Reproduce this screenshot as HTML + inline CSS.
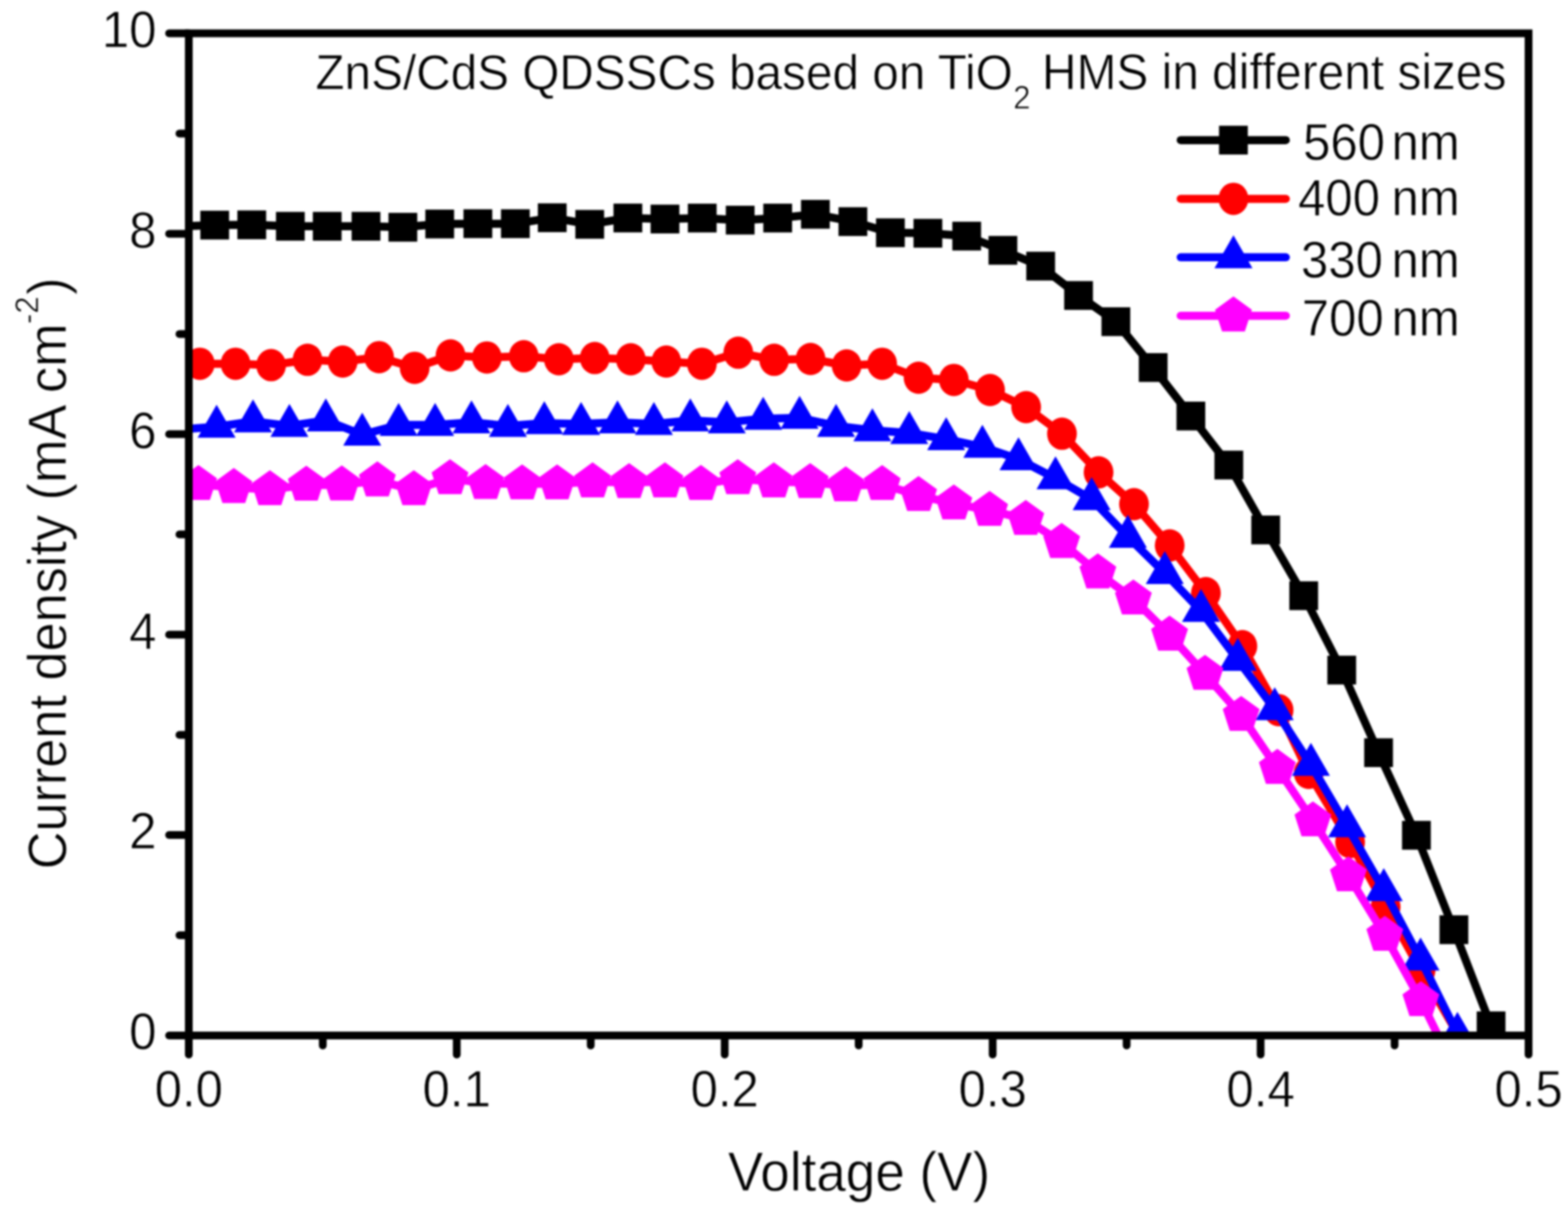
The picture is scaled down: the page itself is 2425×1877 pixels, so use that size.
<!DOCTYPE html>
<html><head><meta charset="utf-8"><title>J-V curves</title>
<style>html,body{margin:0;padding:0;background:#fff;overflow:hidden}svg{display:block;filter:blur(1.5px)}text{stroke:#fff;stroke-width:0.8px}</style>
</head><body>
<svg width="2425" height="1877" viewBox="0 0 2425 1877">
<rect width="2425" height="1877" fill="#fff"/>
<defs><clipPath id="pa"><rect x="292" y="51.5" width="2072" height="1549.5"/></clipPath></defs>
<g clip-path="url(#pa)">
<polyline points="274,350 332,348 389.4,347.6 449,349.8 506,349.8 566,349.8 623,351.3 680,346.3 739,345.9 797,345.9 854,336.7 912,346.8 971,337 1028.4,338.6 1086,337.2 1144.7,340.4 1202.7,337.2 1261,331.3 1319,342.6 1377,359.8 1435,360.6 1495,365 1551,387 1609.5,411.5 1668,456.8 1725.7,497.4 1783.4,568.3 1841.7,643.2 1900.5,719 1957.5,819.4 2016.3,921 2075,1036 2132,1163.7 2190.6,1291.5 2248.6,1437.5 2306,1586 2364,1745" fill="none" stroke="#000000" stroke-width="12.5" stroke-linejoin="round" stroke-linecap="round"/>
<g fill="#000000">
<rect x="309.8" y="325.8" width="44.5" height="44.5"/>
<rect x="367.1" y="325.4" width="44.5" height="44.5"/>
<rect x="426.8" y="327.6" width="44.5" height="44.5"/>
<rect x="483.8" y="327.6" width="44.5" height="44.5"/>
<rect x="543.8" y="327.6" width="44.5" height="44.5"/>
<rect x="600.8" y="329.1" width="44.5" height="44.5"/>
<rect x="657.8" y="324.1" width="44.5" height="44.5"/>
<rect x="716.8" y="323.6" width="44.5" height="44.5"/>
<rect x="774.8" y="323.6" width="44.5" height="44.5"/>
<rect x="831.8" y="314.4" width="44.5" height="44.5"/>
<rect x="889.8" y="324.6" width="44.5" height="44.5"/>
<rect x="948.8" y="314.8" width="44.5" height="44.5"/>
<rect x="1006.2" y="316.4" width="44.5" height="44.5"/>
<rect x="1063.8" y="314.9" width="44.5" height="44.5"/>
<rect x="1122.5" y="318.1" width="44.5" height="44.5"/>
<rect x="1180.5" y="314.9" width="44.5" height="44.5"/>
<rect x="1238.8" y="309.1" width="44.5" height="44.5"/>
<rect x="1296.8" y="320.4" width="44.5" height="44.5"/>
<rect x="1354.8" y="337.6" width="44.5" height="44.5"/>
<rect x="1412.8" y="338.4" width="44.5" height="44.5"/>
<rect x="1472.8" y="342.8" width="44.5" height="44.5"/>
<rect x="1528.8" y="364.8" width="44.5" height="44.5"/>
<rect x="1587.2" y="389.2" width="44.5" height="44.5"/>
<rect x="1645.8" y="434.6" width="44.5" height="44.5"/>
<rect x="1703.5" y="475.1" width="44.5" height="44.5"/>
<rect x="1761.2" y="546" width="44.5" height="44.5"/>
<rect x="1819.5" y="621" width="44.5" height="44.5"/>
<rect x="1878.2" y="696.8" width="44.5" height="44.5"/>
<rect x="1935.2" y="797.1" width="44.5" height="44.5"/>
<rect x="1994" y="898.8" width="44.5" height="44.5"/>
<rect x="2052.8" y="1013.8" width="44.5" height="44.5"/>
<rect x="2109.8" y="1141.5" width="44.5" height="44.5"/>
<rect x="2168.3" y="1269.2" width="44.5" height="44.5"/>
<rect x="2226.3" y="1415.2" width="44.5" height="44.5"/>
<rect x="2283.8" y="1563.8" width="44.5" height="44.5"/>
</g>
<polyline points="253.4,562 309,562.4 364.3,562.4 419.3,564.6 475.6,556.3 530,559 586.3,552.2 641.3,568.7 696.8,549.5 753,552.7 810,550.8 864.3,555.5 919.8,553.6 975.6,555.5 1030.5,559 1085.5,562.4 1141.8,545.3 1197.3,556.3 1253.6,555 1309.4,565 1364.3,562.4 1420.6,584 1475.2,587.4 1531.2,603 1587,629.5 1642.4,670.6 1699,730.3 1753.8,779.5 1809,843.3 1865,917 1921.4,999 1977.4,1097.9 2024,1195 2088,1302 2143,1402 2197,1500 2254,1598" fill="none" stroke="#FF0000" stroke-width="12.5" stroke-linejoin="round" stroke-linecap="round"/>
<g fill="#FF0000">
<ellipse cx="309" cy="562.4" rx="23" ry="25"/>
<ellipse cx="364.3" cy="562.4" rx="23" ry="25"/>
<ellipse cx="419.3" cy="564.6" rx="23" ry="25"/>
<ellipse cx="475.6" cy="556.3" rx="23" ry="25"/>
<ellipse cx="530" cy="559" rx="23" ry="25"/>
<ellipse cx="586.3" cy="552.2" rx="23" ry="25"/>
<ellipse cx="641.3" cy="568.7" rx="23" ry="25"/>
<ellipse cx="696.8" cy="549.5" rx="23" ry="25"/>
<ellipse cx="753" cy="552.7" rx="23" ry="25"/>
<ellipse cx="810" cy="550.8" rx="23" ry="25"/>
<ellipse cx="864.3" cy="555.5" rx="23" ry="25"/>
<ellipse cx="919.8" cy="553.6" rx="23" ry="25"/>
<ellipse cx="975.6" cy="555.5" rx="23" ry="25"/>
<ellipse cx="1030.5" cy="559" rx="23" ry="25"/>
<ellipse cx="1085.5" cy="562.4" rx="23" ry="25"/>
<ellipse cx="1141.8" cy="545.3" rx="23" ry="25"/>
<ellipse cx="1197.3" cy="556.3" rx="23" ry="25"/>
<ellipse cx="1253.6" cy="555" rx="23" ry="25"/>
<ellipse cx="1309.4" cy="565" rx="23" ry="25"/>
<ellipse cx="1364.3" cy="562.4" rx="23" ry="25"/>
<ellipse cx="1420.6" cy="584" rx="23" ry="25"/>
<ellipse cx="1475.2" cy="587.4" rx="23" ry="25"/>
<ellipse cx="1531.2" cy="603" rx="23" ry="25"/>
<ellipse cx="1587" cy="629.5" rx="23" ry="25"/>
<ellipse cx="1642.4" cy="670.6" rx="23" ry="25"/>
<ellipse cx="1699" cy="730.3" rx="23" ry="25"/>
<ellipse cx="1753.8" cy="779.5" rx="23" ry="25"/>
<ellipse cx="1809" cy="843.3" rx="23" ry="25"/>
<ellipse cx="1865" cy="917" rx="23" ry="25"/>
<ellipse cx="1921.4" cy="999" rx="23" ry="25"/>
<ellipse cx="1977.4" cy="1097.9" rx="23" ry="25"/>
<ellipse cx="2024" cy="1195" rx="23" ry="25"/>
<ellipse cx="2088" cy="1302" rx="23" ry="25"/>
<ellipse cx="2143" cy="1402" rx="23" ry="25"/>
<ellipse cx="2197" cy="1500" rx="23" ry="25"/>
</g>
<polyline points="278.7,664 335,659.7 391.3,651.5 447.6,658.4 503.9,650 560.2,672 616.5,657 672.9,657 729.2,653 785.5,658.4 841.8,654.3 898.7,655.6 955,652.9 1011.3,655.6 1067.6,650 1124,652.9 1180.3,647.4 1236.6,646 1293,658.4 1349.2,665.2 1406.2,669.4 1463.3,678.9 1519.3,690.8 1575.2,709.9 1632.4,739.6 1688.3,771.8 1744.3,830 1801.4,886 1857.4,944.4 1914.3,1020.3 1971.4,1096.5 2027.4,1182.5 2083.3,1277.5 2140.1,1376.2 2197,1483.4 2254,1598.4 2310.4,1720" fill="none" stroke="#0000FF" stroke-width="12.5" stroke-linejoin="round" stroke-linecap="round"/>
<g fill="#0000FF">
<polygon points="335,625.7 364.4,676.7 305.6,676.7"/>
<polygon points="391.3,617.5 420.7,668.5 361.9,668.5"/>
<polygon points="447.6,624.4 477,675.4 418.2,675.4"/>
<polygon points="503.9,616 533.3,667 474.5,667"/>
<polygon points="560.2,638 589.6,689 530.8,689"/>
<polygon points="616.5,623 645.9,674 587.1,674"/>
<polygon points="672.9,623 702.3,674 643.5,674"/>
<polygon points="729.2,619 758.6,670 699.8,670"/>
<polygon points="785.5,624.4 814.9,675.4 756.1,675.4"/>
<polygon points="841.8,620.3 871.2,671.3 812.4,671.3"/>
<polygon points="898.7,621.6 928.1,672.6 869.3,672.6"/>
<polygon points="955,618.9 984.4,669.9 925.6,669.9"/>
<polygon points="1011.3,621.6 1040.7,672.6 981.9,672.6"/>
<polygon points="1067.6,616 1097,667 1038.2,667"/>
<polygon points="1124,618.9 1153.4,669.9 1094.6,669.9"/>
<polygon points="1180.3,613.4 1209.7,664.4 1150.9,664.4"/>
<polygon points="1236.6,612 1266,663 1207.2,663"/>
<polygon points="1293,624.4 1322.4,675.4 1263.6,675.4"/>
<polygon points="1349.2,631.2 1378.6,682.2 1319.8,682.2"/>
<polygon points="1406.2,635.4 1435.6,686.4 1376.8,686.4"/>
<polygon points="1463.3,644.9 1492.7,695.9 1433.9,695.9"/>
<polygon points="1519.3,656.8 1548.7,707.8 1489.9,707.8"/>
<polygon points="1575.2,675.9 1604.6,726.9 1545.8,726.9"/>
<polygon points="1632.4,705.6 1661.8,756.6 1603,756.6"/>
<polygon points="1688.3,737.8 1717.7,788.8 1658.9,788.8"/>
<polygon points="1744.3,796 1773.7,847 1714.9,847"/>
<polygon points="1801.4,852 1830.8,903 1772,903"/>
<polygon points="1857.4,910.4 1886.8,961.4 1828,961.4"/>
<polygon points="1914.3,986.3 1943.7,1037.3 1884.9,1037.3"/>
<polygon points="1971.4,1062.5 2000.8,1113.5 1942,1113.5"/>
<polygon points="2027.4,1148.5 2056.8,1199.5 1998,1199.5"/>
<polygon points="2083.3,1243.5 2112.7,1294.5 2053.9,1294.5"/>
<polygon points="2140.1,1342.2 2169.5,1393.2 2110.7,1393.2"/>
<polygon points="2197,1449.4 2226.4,1500.4 2167.6,1500.4"/>
<polygon points="2254,1564.4 2283.4,1615.4 2224.6,1615.4"/>
</g>
<polyline points="251.4,749 307,748.9 361.6,753.6 417.4,756.9 473.7,749.9 528.6,749.6 583.6,743.3 640,756.9 696,739.9 751,747.4 807.5,747.9 861.6,747.9 916.5,744.7 972.9,745.9 1028.4,744.7 1084,748.8 1141,739.9 1196.8,744.7 1253,745.9 1308,750.9 1364.3,748.9 1420.6,765.9 1475.2,778.9 1530.5,788.9 1586.4,802.9 1641.9,838.5 1697.9,885.5 1752.8,925.9 1808.8,981.7 1863.6,1042.4 1919.5,1105.9 1975.5,1187.7 2030.5,1268.9 2085.4,1353.9 2141.7,1445.9 2197.5,1546.9 2253,1660" fill="none" stroke="#FF00FF" stroke-width="12.5" stroke-linejoin="round" stroke-linecap="round"/>
<g fill="#FF00FF">
<polygon points="307,718.9 335.5,739.6 324.6,773.1 289.4,773.1 278.5,739.6"/>
<polygon points="361.6,723.6 390.1,744.3 379.2,777.8 344,777.8 333.1,744.3"/>
<polygon points="417.4,726.9 445.9,747.6 435,781.1 399.8,781.1 388.9,747.6"/>
<polygon points="473.7,719.9 502.2,740.6 491.3,774.1 456.1,774.1 445.2,740.6"/>
<polygon points="528.6,719.6 557.1,740.3 546.2,773.8 511,773.8 500.1,740.3"/>
<polygon points="583.6,713.3 612.1,734 601.2,767.5 566,767.5 555.1,734"/>
<polygon points="640,726.9 668.5,747.6 657.6,781.1 622.4,781.1 611.5,747.6"/>
<polygon points="696,709.9 724.5,730.6 713.6,764.1 678.4,764.1 667.5,730.6"/>
<polygon points="751,717.4 779.5,738.1 768.6,771.6 733.4,771.6 722.5,738.1"/>
<polygon points="807.5,717.9 836,738.6 825.1,772.1 789.9,772.1 779,738.6"/>
<polygon points="861.6,717.9 890.1,738.6 879.2,772.1 844,772.1 833.1,738.6"/>
<polygon points="916.5,714.7 945,735.4 934.1,768.9 898.9,768.9 888,735.4"/>
<polygon points="972.9,715.9 1001.4,736.6 990.5,770.1 955.3,770.1 944.4,736.6"/>
<polygon points="1028.4,714.7 1056.9,735.4 1046,768.9 1010.8,768.9 999.9,735.4"/>
<polygon points="1084,718.8 1112.5,739.5 1101.6,773 1066.4,773 1055.5,739.5"/>
<polygon points="1141,709.9 1169.5,730.6 1158.6,764.1 1123.4,764.1 1112.5,730.6"/>
<polygon points="1196.8,714.7 1225.3,735.4 1214.4,768.9 1179.2,768.9 1168.3,735.4"/>
<polygon points="1253,715.9 1281.5,736.6 1270.6,770.1 1235.4,770.1 1224.5,736.6"/>
<polygon points="1308,720.9 1336.5,741.6 1325.6,775.1 1290.4,775.1 1279.5,741.6"/>
<polygon points="1364.3,718.9 1392.8,739.6 1381.9,773.1 1346.7,773.1 1335.8,739.6"/>
<polygon points="1420.6,735.9 1449.1,756.6 1438.2,790.1 1403,790.1 1392.1,756.6"/>
<polygon points="1475.2,748.9 1503.7,769.6 1492.8,803.1 1457.6,803.1 1446.7,769.6"/>
<polygon points="1530.5,758.9 1559,779.6 1548.1,813.1 1512.9,813.1 1502,779.6"/>
<polygon points="1586.4,772.9 1614.9,793.6 1604,827.1 1568.8,827.1 1557.9,793.6"/>
<polygon points="1641.9,808.5 1670.4,829.2 1659.5,862.7 1624.3,862.7 1613.4,829.2"/>
<polygon points="1697.9,855.5 1726.4,876.2 1715.5,909.7 1680.3,909.7 1669.4,876.2"/>
<polygon points="1752.8,895.9 1781.3,916.6 1770.4,950.1 1735.2,950.1 1724.3,916.6"/>
<polygon points="1808.8,951.7 1837.3,972.4 1826.4,1005.9 1791.2,1005.9 1780.3,972.4"/>
<polygon points="1863.6,1012.4 1892.1,1033.1 1881.2,1066.6 1846,1066.6 1835.1,1033.1"/>
<polygon points="1919.5,1075.9 1948,1096.6 1937.1,1130.1 1901.9,1130.1 1891,1096.6"/>
<polygon points="1975.5,1157.7 2004,1178.4 1993.1,1211.9 1957.9,1211.9 1947,1178.4"/>
<polygon points="2030.5,1238.9 2059,1259.6 2048.1,1293.1 2012.9,1293.1 2002,1259.6"/>
<polygon points="2085.4,1323.9 2113.9,1344.6 2103,1378.1 2067.8,1378.1 2056.9,1344.6"/>
<polygon points="2141.7,1415.9 2170.2,1436.6 2159.3,1470.1 2124.1,1470.1 2113.2,1436.6"/>
<polygon points="2197.5,1516.9 2226,1537.6 2215.1,1571.1 2179.9,1571.1 2169,1537.6"/>
</g>
</g>
<g stroke="#000" stroke-width="12" stroke-linecap="round" fill="none">
<line x1="292" y1="1601" x2="292" y2="1630.5"/>
<line x1="499.2" y1="1601" x2="499.2" y2="1616.5"/>
<line x1="706.4" y1="1601" x2="706.4" y2="1630.5"/>
<line x1="913.6" y1="1601" x2="913.6" y2="1616.5"/>
<line x1="1120.8" y1="1601" x2="1120.8" y2="1630.5"/>
<line x1="1328" y1="1601" x2="1328" y2="1616.5"/>
<line x1="1535.2" y1="1601" x2="1535.2" y2="1630.5"/>
<line x1="1742.4" y1="1601" x2="1742.4" y2="1616.5"/>
<line x1="1949.6" y1="1601" x2="1949.6" y2="1630.5"/>
<line x1="2156.8" y1="1601" x2="2156.8" y2="1616.5"/>
<line x1="2364" y1="1601" x2="2364" y2="1630.5"/>
<line x1="292" y1="1601" x2="261.5" y2="1601"/>
<line x1="292" y1="1446" x2="277.5" y2="1446"/>
<line x1="292" y1="1291.1" x2="261.5" y2="1291.1"/>
<line x1="292" y1="1136.2" x2="277.5" y2="1136.2"/>
<line x1="292" y1="981.2" x2="261.5" y2="981.2"/>
<line x1="292" y1="826.2" x2="277.5" y2="826.2"/>
<line x1="292" y1="671.3" x2="261.5" y2="671.3"/>
<line x1="292" y1="516.4" x2="277.5" y2="516.4"/>
<line x1="292" y1="361.4" x2="261.5" y2="361.4"/>
<line x1="292" y1="206.5" x2="277.5" y2="206.5"/>
<line x1="292" y1="51.5" x2="261.5" y2="51.5"/>
</g>
<rect x="292" y="51.5" width="2072" height="1549.5" fill="none" stroke="#000" stroke-width="12" stroke-linejoin="miter"/>
<g font-family='"Liberation Sans", Arial, sans-serif' font-size="76" fill="#000">
<text transform="translate(292 1711) scale(1 1.04)" text-anchor="middle">0.0</text>
<text transform="translate(706.4 1711) scale(1 1.04)" text-anchor="middle">0.1</text>
<text transform="translate(1120.8 1711) scale(1 1.04)" text-anchor="middle">0.2</text>
<text transform="translate(1535.2 1711) scale(1 1.04)" text-anchor="middle">0.3</text>
<text transform="translate(1949.6 1711) scale(1 1.04)" text-anchor="middle">0.4</text>
<text transform="translate(2364 1711) scale(1 1.04)" text-anchor="middle">0.5</text>
<text transform="translate(242 1622.3) scale(1 1.04)" text-anchor="end">0</text>
<text transform="translate(242 1312.4) scale(1 1.04)" text-anchor="end">2</text>
<text transform="translate(242 1002.5) scale(1 1.04)" text-anchor="end">4</text>
<text transform="translate(242 692.6) scale(1 1.04)" text-anchor="end">6</text>
<text transform="translate(242 382.7) scale(1 1.04)" text-anchor="end">8</text>
<text transform="translate(242 72.8) scale(1 1.04)" text-anchor="end">10</text>
<line x1="1826" y1="216.7" x2="1988.6" y2="216.7" stroke="#000000" stroke-width="12.5" stroke-linecap="round"/>
<g fill="#000000"><rect x="1885.3" y="194.4" width="44.5" height="44.5"/></g>
<text transform="translate(2015.3 246.5) scale(1 1.04)">560</text>
<text transform="translate(2152 246.5) scale(1 1.04)">nm</text>
<line x1="1826" y1="307.4" x2="1988.6" y2="307.4" stroke="#FF0000" stroke-width="12.5" stroke-linecap="round"/>
<g fill="#FF0000"><ellipse cx="1907.6" cy="307.4" rx="23" ry="25"/></g>
<text transform="translate(2007.5 332.5) scale(1 1.04)">400</text>
<text transform="translate(2152 332.5) scale(1 1.04)">nm</text>
<line x1="1826" y1="397.8" x2="1988.6" y2="397.8" stroke="#0000FF" stroke-width="12.5" stroke-linecap="round"/>
<g fill="#0000FF"><polygon points="1907.6,363.8 1937,414.8 1878.2,414.8"/></g>
<text transform="translate(2012 428.7) scale(1 1.04)">330</text>
<text transform="translate(2152 428.7) scale(1 1.04)">nm</text>
<line x1="1826" y1="488.2" x2="1988.6" y2="488.2" stroke="#FF00FF" stroke-width="12.5" stroke-linecap="round"/>
<g fill="#FF00FF"><polygon points="1907.6,458.2 1936.1,478.9 1925.2,512.5 1890,512.5 1879.1,478.9"/></g>
<text transform="translate(2013.3 519.1) scale(1 1.04)">700</text>
<text transform="translate(2152 519.1) scale(1 1.04)">nm</text>
</g>
<g font-family='"Liberation Sans", Arial, sans-serif' fill="#000">
<text transform="translate(487.8 137.8) scale(1 1.04)" font-size="73.8">ZnS/CdS QDSSCs based on TiO</text>
<text transform="translate(1567 167.5) scale(1 1.04)" font-size="48">2</text>
<text transform="translate(1611.5 137.8) scale(1 1.04)" font-size="74">HMS in different sizes</text>
</g>
<g font-family='"Liberation Sans", Arial, sans-serif' font-size="82" fill="#000">
<text transform="translate(1328.5 1841) scale(1 1.04)" text-anchor="middle">Voltage (V)</text>
</g>
<g transform="translate(102.3 1344) rotate(-90)" font-family='"Liberation Sans", Arial, sans-serif' fill="#000">
<text transform="translate(0 0) scale(1 1.04)" font-size="80.8">Current density (mA cm</text>
<text transform="translate(843 -43.3) scale(1 1.04)" font-size="48">-2</text>
<text transform="translate(888 0) scale(1 1.04)" font-size="80.8">)</text>
</g>
</svg>
</body></html>
